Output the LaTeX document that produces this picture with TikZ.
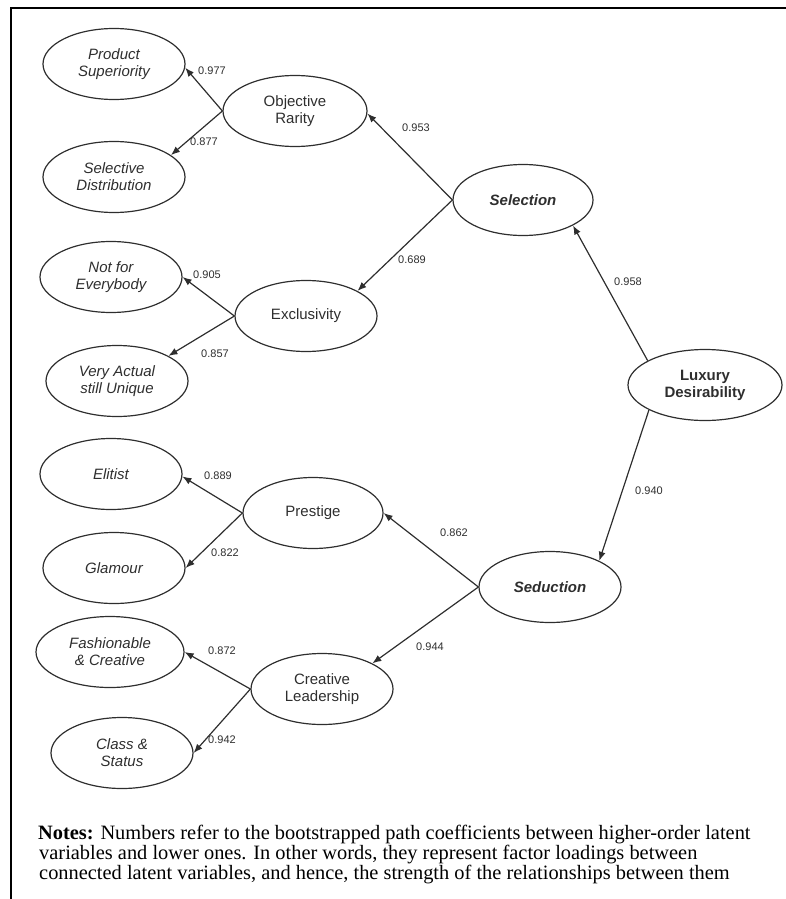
\documentclass[tikz,border=0pt]{standalone}
\usepackage{fontspec}
\setmainfont{Liberation Serif}
\setsansfont{Liberation Sans}
\usetikzlibrary{shapes.geometric,arrows.meta}
\definecolor{ink}{HTML}{2E2E2E}
\begin{document}
\begin{tikzpicture}[x=1pt,y=-1pt,
  lv/.style={ellipse, draw=ink, line width=1.2pt, minimum width=142pt, minimum height=71pt,
    inner sep=0pt, align=center, text=ink, font=\sffamily\fontsize{15}{17}\selectfont},
  ind/.style={lv, font=\sffamily\itshape\fontsize{15}{17}\selectfont},
  sec/.style={lv, font=\sffamily\bfseries\itshape\fontsize{15}{17}\selectfont},
  top/.style={lv, minimum width=154pt, font=\sffamily\bfseries\fontsize{15}{17}\selectfont},
  pth/.style={draw=ink, line width=1.2pt, -{Latex[length=9pt,width=7pt]}},
  coef/.style={inner sep=0pt, text=ink, font=\sffamily\fontsize{11}{13}\selectfont},
  note/.style={anchor=base west, inner sep=0pt, text=black, font=\rmfamily\fontsize{20.4}{20}\selectfont}
]
\useasboundingbox (0,0) rectangle (786,899);
\draw[line width=2pt] (786,8.5) -- (10.5,8.5) -- (10.5,899);

% indicators
\node[ind] (ps) at (114,64) {Product\\Superiority};
\node[ind] (sd) at (114,177) {Selective\\Distribution};
\node[ind] (nfe) at (111,277) {Not for\\Everybody};
\node[ind] (va) at (117,381) {Very Actual\\still Unique};
\node[ind] (el) at (111,474) {Elitist};
\node[ind] (gl) at (114,568) {Glamour};
\node[ind, minimum width=148pt] (fc) at (110,652) {Fashionable\\\& Creative};
\node[ind] (cs) at (122,753) {Class \&\\Status};

% first-order
\node[lv, minimum width=144pt] (or) at (295,111) {Objective\\Rarity};
\node[lv] (ex) at (306,316) {Exclusivity};
\node[lv, minimum width=140pt] (pr) at (313,513) {Prestige};
\node[lv] (cl) at (322,689) {Creative\\Leadership};

% second-order
\node[sec, minimum width=140pt] (sel) at (523,200) {Selection};
\node[sec] (sed) at (550,587) {Seduction};

% top
\node[top] (lux) at (705,385) {Luxury\\Desirability};

% paths
\draw[pth] (or.west) -- (ps.-3);
\draw[pth] (or.west) -- (sd.21);
\draw[pth] (sel.west) -- (or.-2);
\draw[pth] (sel.west) -- (ex.26);
\draw[pth] (ex.west) -- (nfe.east);
\draw[pth] (ex.west) -- (va.26);
\draw[pth] (lux.157) -- (sel.-27.5);
\draw[pth] (lux.204) -- (sed.28);
\draw[pth] (sed.west) -- (pr.east);
\draw[pth] (sed.west) -- (cl.27);
\draw[pth] (pr.west) -- (el.-2);
\draw[pth] (pr.west) -- (gl.east);
\draw[pth] (cl.west) -- (fc.east);
\draw[pth] (cl.west) -- (cs.east);

% coefficients
\node[coef] (c1) at (212,71) {0.977};
\node[coef] (c2) at (204,142) {0.877};
\node[coef] (c3) at (416,128) {0.953};
\node[coef] (c4) at (412,260) {0.689};
\node[coef] (c5) at (207,275) {0.905};
\node[coef] (c6) at (215,354) {0.857};
\node[coef] (c7) at (628,282) {0.958};
\node[coef] (c8) at (649,491) {0.940};
\node[coef] (c9) at (454,533) {0.862};
\node[coef] (c10) at (430,647) {0.944};
\node[coef] (c11) at (218,476) {0.889};
\node[coef] (c12) at (225,553) {0.822};
\node[coef] (c13) at (222,651) {0.872};
\node[coef] (c14) at (222,740) {0.942};

% notes
\node[note] (n1) at (38,839) {\textbf{Notes:} Numbers refer to the bootstrapped path coefficients between higher-order latent};
\node[note] (n2) at (39,859) {variables and lower ones. In other words, they represent factor loadings between};
\node[note] (n3) at (39,879) {connected latent variables, and hence, the strength of the relationships between them};
\end{tikzpicture}
\end{document}
